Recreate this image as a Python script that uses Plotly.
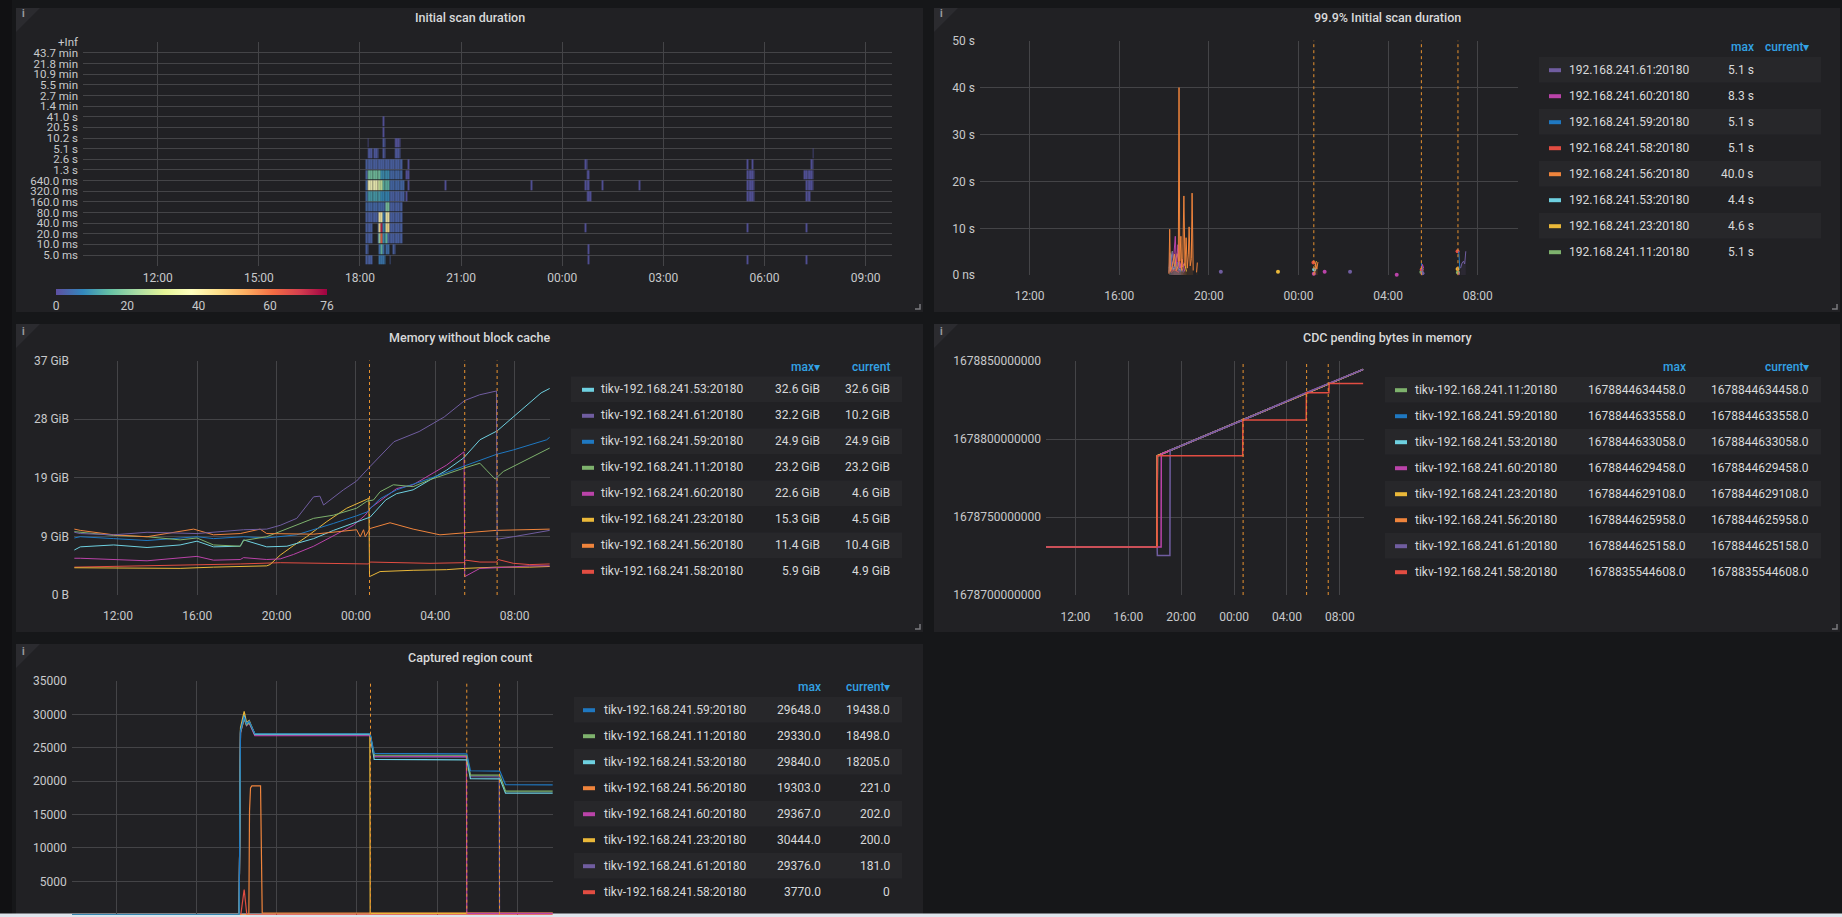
import pandas as pd
import plotly.graph_objects as go

W, H = 1842, 917
DAY1, DAY2 = "2023-03-14", "2023-03-15"


def ts(hhmm):
    # times before 09:47 belong to the second day of the 24h window
    return pd.Timestamp(f"{DAY1 if hhmm >= '09:47' else DAY2} {hhmm}")


X_RANGE = [pd.Timestamp(f"{DAY1} 09:47"), pd.Timestamp(f"{DAY2} 09:47")]

COLORS = {
    "11": "#7eb26d", "59": "#1f78c1", "53": "#6ed0e0", "60": "#ba43a9",
    "23": "#eab839", "56": "#ef843c", "61": "#705da0", "58": "#e24d42",
}


def addr(n):
    return f"192.168.241.{n}:20180"


# ---------------- Initial scan duration (heatmap) ----------------
HM_BUCKETS = ["5.0 ms", "10.0 ms", "20.0 ms", "40.0 ms", "80.0 ms", "160.0 ms",
              "320.0 ms", "640.0 ms", "1.3 s", "2.6 s", "5.1 s", "10.2 s", "20.5 s",
              "41.0 s", "1.4 min", "2.7 min", "5.5 min", "10.9 min", "21.8 min",
              "43.7 min", "+Inf"]
HM_FIRST, HM_LAST, HM_STEP = "18:10", "07:31", 3
HM_SCALE = [0, 20, 40, 60, 76]
# (first bin, last bin, bucket row, count)
HM_RUNS = [
    ("18:40", "18:40", 13, 1),
    ("18:40", "18:40", 12, 1),
    ("18:13", "18:13", 11, 1), ("18:40", "18:43", 11, 2), ("19:01", "19:10", 11, 1),
    ("18:13", "18:19", 10, 2), ("18:25", "18:31", 10, 2), ("18:40", "18:43", 10, 2),
    ("19:01", "19:10", 10, 2),
    ("18:10", "19:13", 9, 3), ("19:25", "19:25", 9, 1),
    ("18:10", "18:10", 8, 3), ("18:13", "18:34", 8, 17), ("18:37", "18:49", 8, 9),
    ("18:52", "19:13", 8, 4), ("19:22", "19:25", 8, 1),
    ("18:10", "18:10", 7, 4), ("18:13", "18:31", 7, 38), ("18:34", "18:37", 7, 27),
    ("18:40", "18:49", 7, 14), ("18:52", "19:16", 7, 4), ("19:25", "19:25", 7, 1),
    ("18:10", "18:10", 6, 4), ("18:13", "18:34", 6, 11), ("18:37", "18:49", 6, 8),
    ("18:52", "19:16", 6, 3), ("19:22", "19:22", 6, 1),
    ("18:10", "18:43", 5, 4), ("18:46", "18:49", 5, 18), ("18:52", "19:13", 5, 3),
    ("18:10", "18:31", 4, 3), ("18:34", "18:37", 4, 41), ("18:40", "18:43", 4, 6),
    ("18:46", "18:49", 4, 40), ("18:52", "19:13", 4, 3),
    ("18:10", "18:19", 3, 3), ("18:31", "18:31", 3, 4), ("18:34", "18:34", 3, 44),
    ("18:37", "18:37", 3, 72), ("18:40", "18:43", 3, 8), ("18:46", "18:49", 3, 44),
    ("18:52", "19:13", 3, 3),
    ("18:10", "18:19", 2, 3), ("18:31", "18:31", 2, 5), ("18:34", "18:34", 2, 22),
    ("18:37", "18:37", 2, 63), ("18:40", "18:43", 2, 9), ("18:46", "18:46", 2, 16),
    ("18:49", "19:13", 2, 3),
    ("18:10", "18:13", 1, 3), ("18:34", "18:34", 1, 5), ("18:37", "18:37", 1, 15),
    ("18:40", "18:40", 1, 5), ("18:46", "18:49", 1, 5), ("18:58", "19:01", 1, 3),
    ("18:10", "18:19", 0, 3), ("18:34", "18:43", 0, 6), ("18:52", "18:52", 0, 3),
    # sparse later cells
    ("20:31", "20:31", 7, 1), ("23:04", "23:04", 7, 1), ("01:10", "01:10", 7, 1),
    ("02:16", "02:16", 7, 1),
    ("00:40", "00:43", 9, 1), ("00:43", "00:46", 8, 1), ("00:40", "00:46", 7, 1),
    ("00:43", "00:49", 6, 1), ("00:40", "00:40", 3, 1), ("00:46", "00:46", 1, 1),
    ("00:46", "00:46", 0, 1),
    ("05:28", "05:28", 9, 1), ("05:37", "05:37", 9, 1), ("05:28", "05:40", 8, 1),
    ("05:28", "05:40", 7, 1), ("05:28", "05:40", 6, 1), ("05:28", "05:28", 3, 1),
    ("05:28", "05:28", 0, 1),
    ("07:25", "07:25", 10, 1), ("07:22", "07:25", 9, 1), ("07:10", "07:25", 8, 1),
    ("07:13", "07:25", 7, 1), ("07:13", "07:19", 6, 1), ("07:13", "07:13", 3, 1),
    ("07:13", "07:13", 0, 1),
]

# ---------------- 99.9% Initial scan duration (s, None = gap) ----------------
P2 = {
    "61": [("18:13", 0.5), ("18:16", 4.8), ("18:19", 2.0), ("18:22", 5.0), ("18:25", 3.0),
           ("18:28", 4.5), ("18:31", 1.2), ("18:35", 2.5), ("18:40", 0.8), ("18:46", 1.5),
           ("18:52", 0.6), ("18:55", None), ("20:32", 0.75), ("20:33", None),
           ("02:18", 0.75), ("02:19", None), ("05:32", 0.4), ("05:33", None),
           ("07:14", 1.5), ("07:18", 2.6), ("07:22", 3.0), ("07:25", 2.4), ("07:28", 5.1)],
    "60": [("18:20", 1.0), ("18:25", 3.0), ("18:30", 8.3), ("18:33", 2.0), ("18:37", 6.5),
           ("18:42", 1.5), ("18:48", 3.5), ("18:55", 0.8), ("18:58", None), ("00:41", 0.3),
           ("00:42", None), ("01:10", 0.75), ("01:11", None), ("04:23", 0.1), ("04:24", None),
           ("05:29", 1.2), ("05:32", 2.3), ("05:35", 1.5), ("05:36", None), ("07:08", 0.7),
           ("07:11", 0.1)],
    "59": [("18:15", 1.0), ("18:20", 2.2), ("18:28", 1.5), ("18:35", 2.8), ("18:45", 1.0),
           ("18:48", None), ("00:41", 1.5), ("00:44", 1.1), ("00:45", None), ("05:29", 2.6),
           ("05:32", 1.0), ("05:33", None), ("07:09", 5.1), ("07:12", 1.5)],
    "58": [("18:18", 0.5), ("18:26", 1.2), ("18:40", 0.6), ("18:43", None), ("00:40", 2.7),
           ("00:41", None), ("05:30", 1.2), ("05:31", None), ("07:06", 5.1)],
    "56": [("18:13", 0.3), ("18:15", 9.8), ("18:17", 0.8), ("18:22", 2.0), ("18:28", 4.5),
           ("18:33", 1.0), ("18:38", 2.0), ("18:40", 40.0), ("18:42", 3.0), ("18:45", 8.3),
           ("18:47", 1.0), ("18:50", 3.5), ("18:53", 16.9), ("18:56", 2.0), ("18:59", 8.0),
           ("19:02", 1.5), ("19:05", 4.5), ("19:07", 10.3), ("19:10", 2.0), ("19:13", 3.5),
           ("19:15", 17.5), ("19:18", 1.0), ("19:21", None), ("19:27", 0.6), ("19:29", 2.7),
           ("19:30", None), ("00:43", 0.4), ("00:46", 2.5), ("00:49", 1.3), ("00:52", 2.8),
           ("00:53", None), ("07:05", 1.5), ("07:08", 0.8)],
    "53": [("18:14", 1.5), ("18:18", 4.4), ("18:24", 1.2), ("18:33", 2.0), ("18:45", 0.8),
           ("18:48", None), ("00:42", 1.2), ("00:43", None), ("05:28", 1.5), ("05:31", 1.6),
           ("05:32", None), ("07:07", 1.5), ("07:10", 1.3)],
    "23": [("18:25", 1.0), ("18:35", 4.6), ("18:45", 1.5), ("18:55", 2.5), ("19:00", 0.8),
           ("19:03", None), ("23:05", 0.75), ("23:06", None), ("00:44", 2.0), ("00:48", 3.0),
           ("00:49", None), ("07:06", 1.3)],
    "11": [("18:14", 0.8), ("18:22", 5.1), ("18:30", 1.5), ("18:40", 2.6), ("18:50", 1.0),
           ("18:53", None), ("05:29", 0.7), ("05:30", None), ("07:07", 0.6)],
}
P2_ORDER = ["61", "60", "59", "58", "56", "53", "23", "11"]
P2_MAX = ["5.1 s", "8.3 s", "5.1 s", "5.1 s", "40.0 s", "4.4 s", "4.6 s", "5.1 s"]
P2_CUR = [""] * 8
P2_TICKS = [0, 10, 20, 30, 40, 50]
P2_TICKTEXT = ["0 ns", "10 s", "20 s", "30 s", "40 s", "50 s"]

# ---------------- Memory without block cache (GiB) ----------------
MEM = {
    "58": [("09:48", 4.4), ("11:47", 4.5), ("13:28", 4.6), ("15:08", 4.7), ("16:49", 4.8),
           ("18:10", 4.9), ("20:11", 5.1), ("22:00", 5.0), ("23:32", 4.9), ("00:38", 4.9),
           ("00:43", 5.2), ("02:03", 5.1), ("03:44", 5.0), ("05:25", 5.1), ("05:32", 5.5),
           ("06:15", 5.2), ("07:05", 5.2), ("07:10", 5.6), ("07:56", 5.0), ("08:46", 4.8),
           ("09:46", 4.9)],
    "23": [("09:48", 4.3), ("10:06", 4.3), ("11:47", 4.2), ("13:28", 4.3), ("15:08", 4.2),
           ("16:49", 4.4), ("18:10", 4.5), ("19:30", 4.6), ("19:40", 4.8), ("20:11", 6.3),
           ("20:51", 7.8), ("21:31", 9.2), ("22:32", 11.6), ("23:32", 13.7), ("00:33", 15.1),
           ("00:39", 15.3), ("00:41", 2.9), ("01:13", 3.7), ("02:53", 3.9), ("04:34", 4.0),
           ("05:29", 4.2), ("06:15", 4.3), ("07:05", 4.4), ("08:46", 4.4), ("09:46", 4.5)],
    "60": [("09:48", 5.8), ("10:06", 5.8), ("13:28", 5.4), ("15:59", 6.1), ("16:49", 5.5),
           ("18:10", 5.6), ("18:20", 5.9), ("19:30", 5.6), ("20:11", 5.7), ("20:51", 6.4),
           ("21:52", 7.7), ("22:52", 9.3), ("23:52", 11.0), ("00:28", 12.6), ("00:43", 13.7),
           ("02:03", 16.8), ("02:53", 17.4), ("04:34", 20.5), ("05:20", 22.4), ("05:27", 22.6),
           ("05:29", 2.9), ("06:15", 4.2), ("07:05", 4.3), ("08:46", 4.6), ("09:46", 4.6)],
    "53": [("09:48", 7.1), ("10:06", 7.6), ("11:47", 7.9), ("13:28", 7.5), ("15:08", 7.9),
           ("15:59", 8.5), ("16:49", 7.6), ("18:10", 7.7), ("18:20", 8.7), ("19:30", 7.6),
           ("20:31", 7.7), ("21:52", 8.9), ("22:52", 10.2), ("23:52", 11.3), ("00:43", 12.3),
           ("01:30", 15.0), ("02:03", 16.0), ("02:53", 16.6), ("04:34", 19.7), ("05:25", 21.6),
           ("06:15", 24.5), ("07:07", 25.9), ("08:00", 28.3), ("09:20", 31.9), ("09:46", 32.6)],
    "59": [("09:48", 9.0), ("10:06", 9.2), ("11:47", 8.9), ("13:28", 8.6), ("15:59", 9.2),
           ("16:49", 8.9), ("18:20", 9.2), ("19:30", 9.0), ("21:01", 9.5), ("21:52", 10.3),
           ("22:52", 11.3), ("00:02", 12.5), ("00:33", 13.1), ("01:13", 15.2), ("02:03", 16.6),
           ("03:44", 18.4), ("05:25", 20.3), ("07:05", 22.2), ("07:56", 22.9), ("09:37", 24.5),
           ("09:46", 24.9)],
    "11": [("09:48", 10.0), ("10:06", 9.9), ("11:47", 9.4), ("13:28", 9.2), ("15:08", 8.7),
           ("15:59", 9.0), ("16:49", 7.9), ("18:10", 7.7), ("18:20", 8.6), ("19:30", 9.2),
           ("20:31", 10.5), ("21:52", 12.1), ("22:52", 12.6), ("00:02", 13.7), ("00:33", 14.8),
           ("00:53", 15.0), ("01:13", 16.3), ("01:53", 17.4), ("02:53", 17.1), ("03:44", 18.2),
           ("05:25", 20.0), ("06:15", 20.8), ("06:35", 19.7), ("07:01", 18.3), ("07:26", 19.5),
           ("08:46", 21.6), ("09:46", 23.2)],
    "56": [("09:48", 10.4), ("10:06", 10.2), ("11:47", 9.5), ("13:28", 9.2), ("15:49", 10.4),
           ("16:49", 9.5), ("18:10", 9.7), ("19:10", 10.4), ("19:30", 9.7), ("21:52", 9.6),
           ("00:02", 10.3), ("00:13", 9.2), ("00:23", 10.3), ("00:28", 9.2), ("00:43", 10.5),
           ("01:43", 11.4), ("02:53", 10.4), ("04:14", 9.5), ("05:25", 9.8), ("07:05", 10.2),
           ("09:46", 10.4)],
    "61": [("09:48", 9.9), ("10:06", 9.7), ("11:47", 9.5), ("13:28", 9.9), ("15:59", 9.7),
           ("17:09", 10.0), ("18:20", 10.3), ("19:30", 10.4), ("20:11", 11.0), ("21:01", 12.1),
           ("21:52", 15.5), ("22:11", 15.6), ("22:22", 14.2), ("23:22", 16.6), ("00:02", 18.0),
           ("00:43", 20.3), ("01:55", 24.2), ("03:11", 25.8), ("04:27", 28.1), ("05:29", 30.7),
           ("06:14", 31.6), ("07:05", 32.2), ("07:07", 8.8), ("07:56", 9.2), ("09:37", 10.2),
           ("09:46", 10.2)],
}
MEM_ORDER = ["53", "61", "59", "11", "60", "23", "56", "58"]
MEM_MAX = ["32.6 GiB", "32.2 GiB", "24.9 GiB", "23.2 GiB", "22.6 GiB", "15.3 GiB", "11.4 GiB", "5.9 GiB"]
MEM_CUR = ["32.6 GiB", "10.2 GiB", "24.9 GiB", "23.2 GiB", "4.6 GiB", "4.5 GiB", "10.4 GiB", "4.9 GiB"]
MEM_TICKS = [0, 9.25, 18.5, 27.75, 37]
MEM_TICKTEXT = ["0 B", "9 GiB", "19 GiB", "28 GiB", "37 GiB"]

# ---------------- CDC pending bytes in memory ----------------
CDC = {
    "11": [("09:48", 1678730800000), ("18:11", 1678730800000), ("18:12", 1678789300000),
           ("00:40", 1678812200000), ("05:28", 1678829700000), ("07:11", 1678835700000),
           ("09:46", 1678844634458)],
    "59": [("09:48", 1678730800000), ("18:11", 1678730800000), ("18:12", 1678789300000),
           ("00:40", 1678812200000), ("05:28", 1678829700000), ("07:11", 1678835700000),
           ("09:46", 1678844633558)],
    "53": [("09:48", 1678730800000), ("18:11", 1678730800000), ("18:12", 1678789300000),
           ("00:40", 1678812200000), ("05:28", 1678829700000), ("07:11", 1678835700000),
           ("09:46", 1678844633058)],
    "23": [("09:48", 1678730800000), ("18:11", 1678730800000), ("18:12", 1678789300000),
           ("00:40", 1678812200000), ("05:28", 1678829700000), ("07:11", 1678835700000),
           ("09:46", 1678844629108)],
    "56": [("09:48", 1678730800000), ("18:11", 1678730800000), ("18:12", 1678789300000),
           ("00:40", 1678812200000), ("05:28", 1678829700000), ("07:11", 1678835700000),
           ("09:46", 1678844625958)],
    "60": [("09:48", 1678730800000), ("18:29", 1678730800000), ("18:30", 1678790400000),
           ("00:40", 1678812200000), ("05:28", 1678829700000), ("07:11", 1678835700000),
           ("09:46", 1678844629458)],
    "61": [("09:48", 1678730800000), ("18:11", 1678730800000), ("18:12", 1678725300000),
           ("19:09", 1678725300000), ("19:10", 1678792800000), ("00:40", 1678812200000),
           ("05:28", 1678829700000), ("07:11", 1678835700000), ("09:46", 1678844625158)],
    "58": [("09:48", 1678730800000), ("18:11", 1678730800000), ("18:12", 1678789300000),
           ("00:39", 1678789300000), ("00:40", 1678812200000), ("05:27", 1678812200000),
           ("05:28", 1678829700000), ("07:10", 1678829700000), ("07:11", 1678835544608),
           ("09:46", 1678835544608)],
}
CDC_ORDER = ["11", "59", "53", "60", "23", "56", "61", "58"]
CDC_DRAW = ["11", "59", "53", "23", "56", "60", "61", "58"]
CDC_MAX = ["1678844634458.0", "1678844633558.0", "1678844633058.0", "1678844629458.0",
           "1678844629108.0", "1678844625958.0", "1678844625158.0", "1678835544608.0"]
CDC_CUR = list(CDC_MAX)
CDC_TICKS = [1678700000000, 1678750000000, 1678800000000, 1678850000000]

# ---------------- Captured region count ----------------
CAP = {
    "59": [("09:48", 0), ("18:08", 0), ("18:12", 27500), ("18:23", 29648), ("18:30", 28600),
           ("18:38", 29000), ("18:55", 27100), ("00:40", 27100), ("00:52", 24160),
           ("05:29", 24100), ("05:40", 21560), ("07:08", 21500), ("07:25", 19460), ("09:46", 19438)],
    "11": [("09:48", 0), ("18:08", 0), ("18:12", 27300), ("18:23", 29330), ("18:30", 28400),
           ("18:38", 28800), ("18:55", 27100), ("00:40", 27100), ("00:52", 23900),
           ("05:29", 23880), ("05:40", 20910), ("07:08", 20900), ("07:25", 18500), ("09:46", 18498)],
    "53": [("09:48", 0), ("18:08", 0), ("18:12", 27600), ("18:23", 29840), ("18:30", 28500),
           ("18:38", 28900), ("18:55", 27000), ("00:40", 27000), ("00:52", 23260),
           ("05:29", 23200), ("05:40", 20360), ("07:08", 20350), ("07:25", 18210), ("09:46", 18205)],
    "56": [("09:48", 0), ("18:37", 0), ("18:39", 15500), ("18:42", 19000), ("18:46", 19303),
           ("19:12", 19303), ("19:17", 221), ("09:46", 221)],
    "60": [("09:48", 0), ("18:08", 0), ("18:12", 27200), ("18:23", 29367), ("18:30", 28300),
           ("18:38", 28700), ("18:55", 26800), ("00:40", 26800), ("00:52", 23760),
           ("05:28", 23700), ("05:29", 202), ("09:46", 202)],
    "23": [("09:48", 0), ("18:08", 0), ("18:12", 28000), ("18:23", 30444), ("18:30", 28800),
           ("18:38", 29100), ("18:55", 27000), ("00:39", 27000), ("00:40", 200), ("09:46", 200)],
    "61": [("09:48", 0), ("18:08", 0), ("18:12", 27400), ("18:23", 29376), ("18:30", 28500),
           ("18:38", 28800), ("18:55", 26900), ("00:40", 26900), ("00:52", 23650),
           ("05:29", 23600), ("05:40", 20660), ("07:06", 20650), ("07:07", 181), ("09:46", 181)],
    "58": [("09:48", 0), ("18:13", 0), ("18:23", 3770), ("18:31", 0), ("09:46", 0)],
}
CAP_ORDER = ["59", "11", "53", "56", "60", "23", "61", "58"]
CAP_MAX = ["29648.0", "29330.0", "29840.0", "19303.0", "29367.0", "30444.0", "29376.0", "3770.0"]
CAP_CUR = ["19438.0", "18498.0", "18205.0", "221.0", "202.0", "200.0", "181.0", "0"]
CAP_TICKS = [0, 5000, 10000, 15000, 20000, 25000, 30000, 35000]

ANN_TIMES = ["00:41", "05:29", "07:07"]

# ---------------- styling ----------------
PAGE = "#161719"
PANEL = "#212124"
BAND = "#27272a"
GRID = "#444447"
TICK = "#c8c9cb"
TEXT = "#d8d9da"
HEAD = "#33a2e5"
ANN = "#e8922f"
FONT = "Roboto, Helvetica Neue, Arial, sans-serif"


def X(px):
    return px / W


def Y(py):
    return 1 - py / H


shapes = []
annotations = []


def rect(x0, y0, x1, y1, color):
    shapes.append(dict(type="rect", xref="paper", yref="paper", x0=X(x0), x1=X(x1),
                       y0=Y(y1), y1=Y(y0), fillcolor=color, line=dict(width=0), layer="below"))


def text(x, y, s, anchor="left", color=TEXT, size=12, weight=400):
    annotations.append(dict(x=X(x), y=Y(y), xref="paper", yref="paper", text=s,
                            showarrow=False, xanchor=anchor, yanchor="middle",
                            font=dict(family=FONT, size=size, color=color, weight=weight)))


# page pieces
rect(0, 0, 12, H, "#111113")
PANELS = [
    (16, 8, 923, 312, "Initial scan duration", 17.3),
    (934, 8, 1840, 312, "99.9% Initial scan duration", 17.3),
    (16, 324, 923, 632, "Memory without block cache", 337.7),
    (934, 324, 1840, 632, "CDC pending bytes in memory", 337.7),
    (16, 644, 923, 940, "Captured region count", 657.3),
]
for x0, y0, x1, y1, title, ty in PANELS:
    rect(x0, y0, min(x1, W), min(y1, H), PANEL)
    shapes.append(dict(type="path", xref="paper", yref="paper", layer="below",
                       path=f"M{X(x0)},{Y(y0)} L{X(x0 + 24)},{Y(y0)} L{X(x0)},{Y(y0 + 24)} Z",
                       fillcolor="#2b2b2f", line=dict(width=0)))
    text(x0 + 7.5, y0 + (5 if y0 < 20 else 7), "i", anchor="center", color="#9fa0a3",
         size=10, weight=700)
    text((x0 + x1) / 2, ty, title, anchor="center", size=12.5, weight=500)
    if y1 < H:
        shapes.append(dict(type="path", xref="paper", yref="paper", layer="above",
                           path=f"M{X(x1 - 8)},{Y(y1 - 3)} L{X(x1 - 3)},{Y(y1 - 3)} L{X(x1 - 3)},{Y(y1 - 8)}",
                           line=dict(color="#7a7a7d", width=1.5)))
rect(0, 913.5, W, H, "#dfe5ec")


def legend(order, max_vals, cur_vals, sw_x, name_x, band_x0, band_x1, max_x, cur_x,
           head_y, row_y, max_label, cur_label, prefix):
    text(max_x, head_y, max_label, anchor="right", color=HEAD, weight=500)
    text(cur_x, head_y, cur_label, anchor="right", color=HEAD, weight=500)
    for i, n in enumerate(order):
        yc = row_y + 26 * i
        if i % 2 == 0:
            rect(band_x0, yc - 12.7, band_x1, yc + 12.7, BAND)
        shapes.append(dict(type="rect", xref="paper", yref="paper", layer="above",
                           x0=X(sw_x), x1=X(sw_x + 12), y0=Y(yc + 2.5), y1=Y(yc - 1.5),
                           fillcolor=COLORS[n], line=dict(width=0)))
        text(name_x, yc, prefix + addr(n))
        text(max_x, yc, max_vals[i], anchor="right")
        if cur_vals[i]:
            text(cur_x, yc, cur_vals[i], anchor="right")


legend(P2_ORDER, P2_MAX, P2_CUR, 1549, 1567, 1539, 1821, 1755.7, 1810.7, 47, 69.7,
       "max", "current▾", "")
legend(MEM_ORDER, MEM_MAX, MEM_CUR, 582, 599, 571, 902, 822, 892, 367, 389.3,
       "max▾", "current", "tikv-")
legend(CDC_ORDER, CDC_MAX, CDC_CUR, 1395, 1413, 1385, 1821, 1688.3, 1811, 367, 389.7,
       "max", "current▾", "tikv-")
legend(CAP_ORDER, CAP_MAX, CAP_CUR, 583, 602, 574, 902, 823.3, 892.3, 687, 709.7,
       "max", "current▾", "tikv-")

fig = go.Figure()

# heatmap
t0 = ts(HM_FIRST)
n_bins = int((ts(HM_LAST) - t0).total_seconds() // 60 // HM_STEP) + 1
hm_x = [t0 + pd.Timedelta(minutes=HM_STEP * i) for i in range(n_bins + 1)]
hm_z = [[None] * n_bins for _ in HM_BUCKETS]
for first, last, row, count in HM_RUNS:
    i0 = int((ts(first) - t0).total_seconds() // 60 // HM_STEP)
    i1 = int((ts(last) - t0).total_seconds() // 60 // HM_STEP)
    for i in range(i0, i1 + 1):
        hm_z[row][i] = count

fig.add_trace(go.Heatmap(
    x=hm_x, y=list(range(len(HM_BUCKETS) + 1)), z=hm_z, xaxis="x", yaxis="y",
    colorscale="Spectral_r", zmin=HM_SCALE[0], zmax=HM_SCALE[-1], xgap=0.4, ygap=1,
    hoverinfo="skip",
    colorbar=dict(orientation="h", x=X(56), xanchor="left", y=Y(289), yanchor="top",
                  len=271, lenmode="pixels", thickness=6, outlinewidth=0, xpad=0, ypad=0,
                  tickvals=HM_SCALE, ticks="", tickfont=dict(family=FONT, size=12, color=TICK)),
))


def rgba(hex_color, a):
    c = hex_color.lstrip("#")
    return f"rgba({int(c[0:2], 16)},{int(c[2:4], 16)},{int(c[4:6], 16)},{a})"


def series(data, n, xa, ya, width=1):
    fig.add_trace(go.Scatter(
        x=[ts(t) for t, _ in data], y=[v for _, v in data], xaxis=xa, yaxis=ya,
        mode="lines", line=dict(color=COLORS[n], width=width), hoverinfo="skip",
        showlegend=False))


def gapped_series(data, n, xa, ya):
    # split at gaps: each run is drawn with a light fill, single points as dots
    runs, cur = [], []
    for t, v in data:
        if v is None:
            if cur:
                runs.append(cur)
            cur = []
        else:
            cur.append((ts(t), v))
    if cur:
        runs.append(cur)
    for run in runs:
        xs = [p[0] for p in run]
        ys = [p[1] for p in run]
        if len(run) == 1:
            fig.add_trace(go.Scatter(x=xs, y=ys, xaxis=xa, yaxis=ya, mode="markers",
                                     marker=dict(size=4, color=COLORS[n]), hoverinfo="skip",
                                     showlegend=False, cliponaxis=False))
        else:
            fig.add_trace(go.Scatter(x=xs, y=ys, xaxis=xa, yaxis=ya, mode="lines",
                                     line=dict(color=COLORS[n], width=1), fill="tozeroy",
                                     fillcolor=rgba(COLORS[n], 0.12), hoverinfo="skip",
                                     showlegend=False))


for n in ["11", "23", "53", "58", "59", "60", "61", "56"]:
    gapped_series(P2[n], n, "x2", "y2")
for n in ["58", "23", "60", "53", "59", "11", "56", "61"]:
    series(MEM[n], n, "x3", "y3")
for n in CDC_DRAW:
    series(CDC[n], n, "x4", "y4", width=1.5)
for n in ["58", "56", "61", "23", "60", "53", "11", "59"]:
    series(CAP[n], n, "x5", "y5", width=1.2)

# annotation markers (triangles below the time axis) and dashed event lines
for xa, ya, yv in [("x2", "y2", -0.75), ("x3", "y3", -0.6), ("x4", "y4", 1678696800000)]:
    fig.add_trace(go.Scatter(x=[ts(t) for t in ANN_TIMES], y=[yv] * len(ANN_TIMES),
                             xaxis=xa, yaxis=ya, mode="markers", cliponaxis=False,
                             marker=dict(symbol="triangle-up", size=9, color=ANN),
                             hoverinfo="skip", showlegend=False))
for xa, ya in [("x2", "y2"), ("x3", "y3"), ("x4", "y4"), ("x5", "y5")]:
    for t in ANN_TIMES:
        shapes.append(dict(type="line", xref=xa, yref=f"{ya} domain", x0=ts(t), x1=ts(t),
                           y0=0, y1=1, line=dict(color=ANN, width=1, dash="3px,3px"),
                           layer="above"))


def xax(x0, x1, anchor, hours, standoff, labels=True):
    return dict(domain=[X(x0), X(x1)], anchor=anchor, type="date", range=X_RANGE,
                tick0=f"{DAY1} 00:00", dtick=hours * 3600000, tickformat="%H:%M",
                showgrid=True, gridcolor=GRID, gridwidth=1, zeroline=False, showline=False,
                ticks="", ticklabelstandoff=standoff, fixedrange=True, automargin=False,
                showticklabels=labels, tickfont=dict(family=FONT, size=12, color=TICK))


def yax(y0, y1, anchor, rng, tickvals, ticktext, size=12):
    return dict(domain=[Y(y1), Y(y0)], anchor=anchor, range=rng, tickvals=tickvals,
                ticktext=ticktext, showgrid=True, gridcolor=GRID, gridwidth=1,
                zeroline=False, showline=False, ticks="", ticklabelstandoff=4,
                fixedrange=True, automargin=False,
                tickfont=dict(family=FONT, size=size, color=TICK))


fig.update_layout(
    width=W, height=H, margin=dict(l=0, r=0, t=0, b=0, autoexpand=False),
    paper_bgcolor=PAGE, plot_bgcolor="rgba(0,0,0,0)", showlegend=False,
    font=dict(family=FONT, color=TEXT),
    xaxis=xax(83, 892, "y", 3, 3),
    yaxis=yax(42.3, 265.7, "x", [0, len(HM_BUCKETS)], list(range(len(HM_BUCKETS) + 1)),
              [""] + HM_BUCKETS, size=11.5),
    xaxis2=xax(980, 1517.7, "y2", 4, 12),
    yaxis2=yax(40.7, 275.2, "x2", [0, 50], P2_TICKS, P2_TICKTEXT),
    xaxis3=xax(74, 550, "y3", 4, 12),
    yaxis3=yax(360.6, 595, "x3", [0, 37], MEM_TICKS, MEM_TICKTEXT),
    xaxis4=xax(1046, 1363.5, "y4", 4, 13),
    yaxis4=yax(361, 595, "x4", [CDC_TICKS[0], CDC_TICKS[-1]], CDC_TICKS,
               [str(v) for v in CDC_TICKS]),
    xaxis5=xax(71.7, 553, "y5", 4, 12, labels=False),
    yaxis5=yax(681, 914.7, "x5", [0, 35000], CAP_TICKS, [str(v) for v in CAP_TICKS]),
    shapes=shapes, annotations=annotations,
)

fig.write_html("out.html", config={"displayModeBar": False},
               post_script="document.body.style.margin='0';"
                           "document.body.style.overflow='hidden';"
                           f"document.body.style.background='{PAGE}';")
